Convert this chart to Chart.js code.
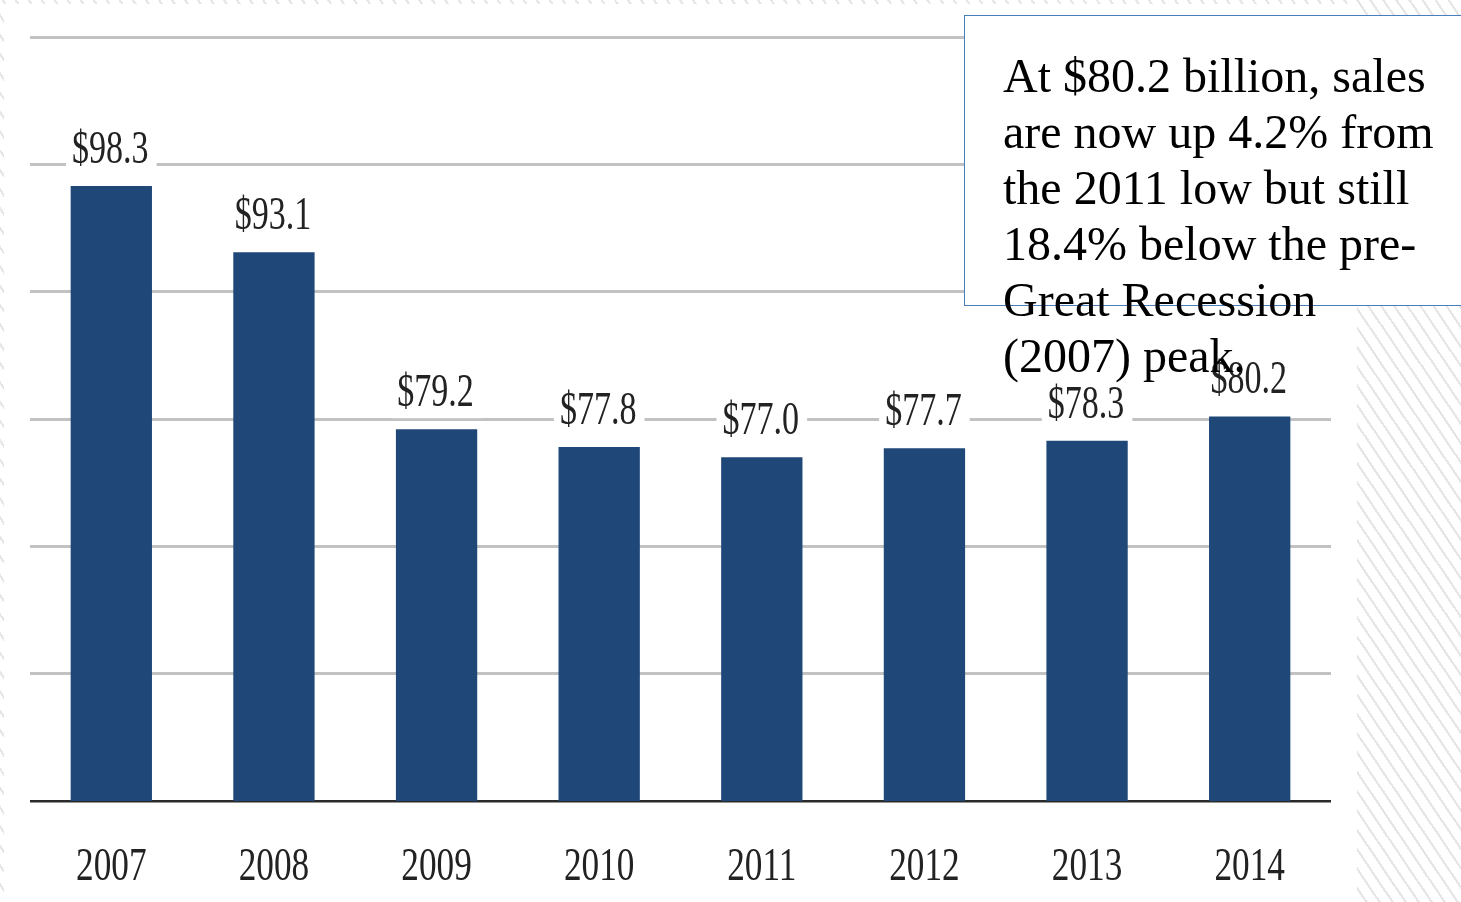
<!DOCTYPE html>
<html>
<head>
<meta charset="utf-8">
<script src="https://cdn.jsdelivr.net/npm/chart.js@4"></script>
<style>
  html, body { margin: 0; padding: 0; width: 1461px; height: 902px; overflow: hidden; }
  body {
    position: relative;
    background: repeating-linear-gradient(56deg, #ffffff 0px, #ffffff 8.6px, #e6e6e6 8.6px, #e6e6e6 10.8px);
  }
  #sheet { position: absolute; left: 4px; top: 4px; width: 1353px; height: 898px; background: #ffffff; }
  #chartWrap { position: absolute; left: 0; top: 0; width: 1461px; height: 902px; }
  #note {
    position: absolute; left: 964px; top: 15px; width: 600px; height: 291px;
    box-sizing: border-box; border: 1.5px solid #4a7ebb; background: #ffffff;
    padding: 32px 0 0 38px; overflow: visible;
    font-family: "Liberation Serif", "Times New Roman", serif; font-size: 48px; line-height: 56px;
    color: #000; white-space: nowrap;
  }
</style>
</head>
<body>
<div id="sheet"></div>
<div id="chartWrap"><canvas id="c" width="1461" height="902"></canvas></div>
<div id="note">At $80.2 billion, sales<br>are now up 4.2% from<br>the 2011 low but still<br>18.4% below the pre-<br>Great Recession<br>(2007) peak.</div>
<script>
const categories = ['2007', '2008', '2009', '2010', '2011', '2012', '2013', '2014'];
const salesValues = [98.3, 93.1, 79.2, 77.8, 77.0, 77.7, 78.3, 80.2];
const valueLabels = ['$98.3', '$93.1', '$79.2', '$77.8', '$77.0', '$77.7', '$78.3', '$80.2'];
const yMin = 50;
const yMax = 110;
const yStep = 10;

const SX = 0.74;

const labelPlugin = {
  id: 'condensedLabels',
  afterDatasetsDraw(chart) {
    const ctx = chart.ctx;
    const meta = chart.getDatasetMeta(0);
    ctx.save();
    ctx.font = '46px "Liberation Serif", "Times New Roman", serif';
    meta.data.forEach((bar, i) => {
      const txt = valueLabels[i];
      const w = ctx.measureText(txt).width * SX;
      const base = bar.y - 23;
      ctx.fillStyle = '#ffffff';
      ctx.fillRect(bar.x - w / 2 - 7, base - 36, w + 14, 48);
      ctx.save();
      ctx.translate(bar.x - 1, base);
      ctx.scale(SX, 1);
      ctx.textAlign = 'center';
      ctx.textBaseline = 'alphabetic';
      ctx.fillStyle = '#222222';
      ctx.fillText(txt, 0, 0);
      ctx.restore();
    });
    const xScale = chart.scales.x;
    ctx.font = '47px "Liberation Serif", "Times New Roman", serif';
    categories.forEach((cat, i) => {
      const x = xScale.getPixelForValue(i);
      ctx.save();
      ctx.translate(x, 880);
      ctx.scale(0.75, 1);
      ctx.textAlign = 'center';
      ctx.textBaseline = 'alphabetic';
      ctx.fillStyle = '#222222';
      ctx.fillText(cat, 0, 0);
      ctx.restore();
    });
    ctx.restore();
  }
};

new Chart(document.getElementById('c'), {
  type: 'bar',
  data: {
    labels: categories,
    datasets: [{
      data: salesValues,
      backgroundColor: '#1f4879',
      borderWidth: 0,
      barPercentage: 0.5,
      categoryPercentage: 1.0
    }]
  },
  options: {
    responsive: false,
    animation: false,
    devicePixelRatio: 1,
    layout: { padding: { left: 30, right: 130, top: 37, bottom: 0 } },
    plugins: { legend: { display: false }, tooltip: { enabled: false } },
    scales: {
      x: {
        grid: { display: false },
        border: { display: false },
        ticks: { display: false },
        afterFit(scale) { scale.height = 101; }
      },
      y: {
        min: yMin,
        max: yMax,
        ticks: { display: false, stepSize: yStep },
        border: { display: false },
        grid: {
          drawTicks: false,
          color: (c) => (c.tick && c.tick.value === yMin ? '#2a2a2a' : '#c2c2c2'),
          lineWidth: (c) => (c.tick && c.tick.value === yMin ? 2.5 : 3)
        },
        afterFit(scale) { scale.width = 0; }
      }
    }
  },
  plugins: [labelPlugin]
});
</script>
</body>
</html>
